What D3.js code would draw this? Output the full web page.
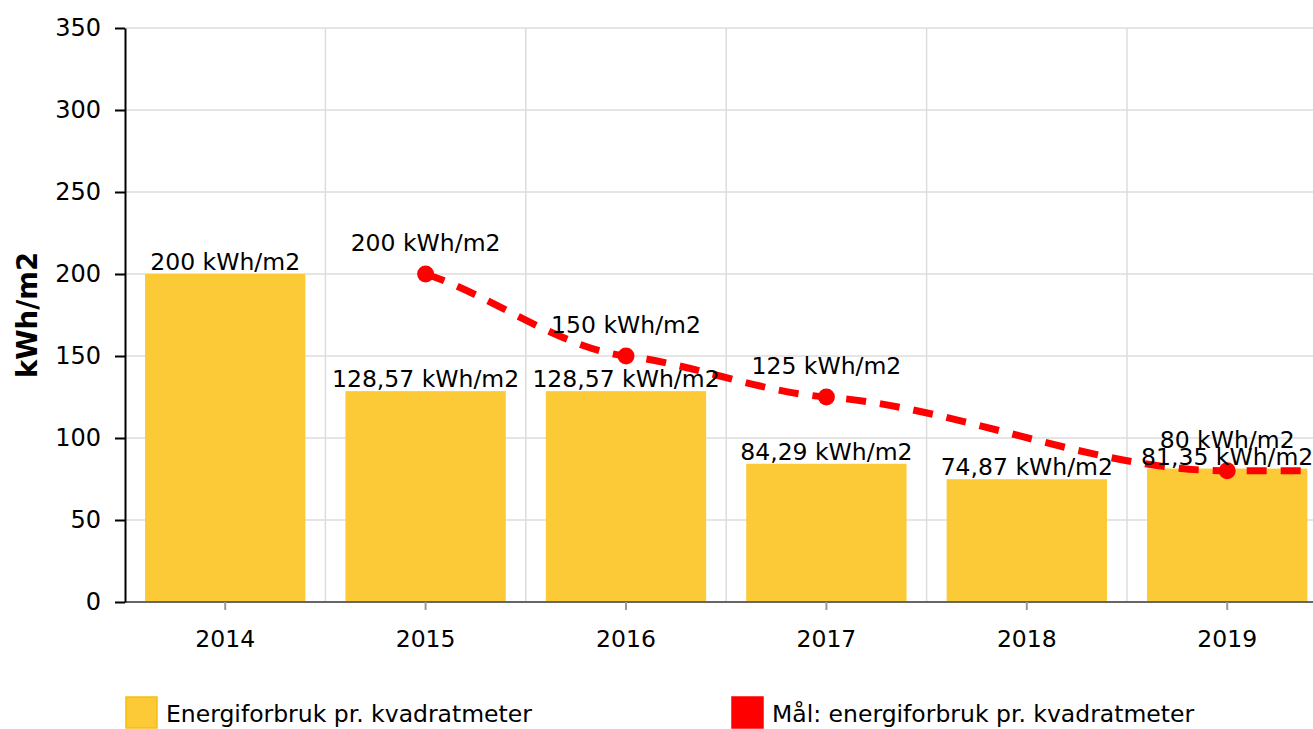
<!DOCTYPE html>
<html>
<head>
<meta charset="utf-8">
<script src="https://cdn.jsdelivr.net/npm/d3@7"></script>
<style>
  body { margin: 0; background: #fff; }
  text { font-family: "DejaVu Sans", Verdana, sans-serif; fill: #000; }
</style>
</head>
<body>
<script>
const years = ['2014', '2015', '2016', '2017', '2018', '2019', '2020']
const usage = [200, 128.57, 128.57, 84.29, 74.87, 81.35, null]
const usageLabels = ['200', '128,57', '128,57', '84,29', '74,87', '81,35', '']
const target = [null, 200, 150, 125, null, 80, 80]
const targetLabels = ['', '200', '150', '125', '', '80', '80']
const yTicks = [0, 50, 100, 150, 200, 250, 300, 350]

const W = 1313, H = 729
const margin = {top: 28, left: 125, bottom: 127}
const bandW = 200.4
const fs = 23.5

// soft spline: cubic segments with flattened tangents at the points
function softCurve(context) {
  let pts = []
  return {
    areaStart() {}, areaEnd() {},
    lineStart() { pts = [] },
    point(x, y) { pts.push([+x, +y]) },
    lineEnd() {
      const n = pts.length
      if (!n) return
      const sec = i => (pts[i + 1][1] - pts[i][1]) / (pts[i + 1][0] - pts[i][0])
      const slope = i => {
        if (n < 2) return 0
        if (i === 0) return 0.8 * sec(0)
        if (i === n - 1) return 0.8 * sec(n - 2)
        const a = sec(i - 1), b = sec(i)
        if (a * b <= 0) return 0
        return 0.4 * (pts[i + 1][1] - pts[i - 1][1]) / (pts[i + 1][0] - pts[i - 1][0])
      }
      context.moveTo(pts[0][0], pts[0][1])
      for (let i = 0; i < n - 1; i++) {
        const [x0, y0] = pts[i], [x1, y1] = pts[i + 1]
        const h = (x1 - x0) / 3
        context.bezierCurveTo(x0 + h, y0 + slope(i) * h, x1 - h, y1 - slope(i + 1) * h, x1, y1)
      }
    }
  }
}

const svg = d3.select('body').append('svg')
    .attr('width', W)
    .attr('height', H)

const x = d3.scaleBand()
    .domain(years)
    .range([margin.left, margin.left + bandW * years.length])
    .paddingInner(0.2)
    .paddingOuter(0.1)

// plain band scale for grid, ticks and the line
const xs = d3.scaleBand().domain(years).range(x.range())

const y = d3.scaleLinear()
    .domain([0, 350])
    .range([H - margin.bottom, margin.top])

svg.append('clipPath').attr('id', 'clip')
  .append('rect')
    .attr('x', margin.left).attr('y', 0)
    .attr('width', W - margin.left).attr('height', H)

const plot = svg.append('g').attr('clip-path', 'url(#clip)')

// horizontal grid
plot.selectAll('.hgrid').data(yTicks.slice(1))
  .enter().append('line')
    .attr('x1', margin.left).attr('x2', W)
    .attr('y1', d => y(d)).attr('y2', d => y(d))
    .attr('stroke', '#dcdcdc').attr('stroke-width', 1.5)

// vertical grid
plot.selectAll('.vgrid').data(years.slice(1))
  .enter().append('line')
    .attr('x1', d => xs(d)).attr('x2', d => xs(d))
    .attr('y1', y(350)).attr('y2', y(0))
    .attr('stroke', '#dcdcdc').attr('stroke-width', 1.5)

// bars
const barData = years.map((yr, i) => ({yr, v: usage[i], lbl: usageLabels[i]})).filter(d => d.v != null)
plot.selectAll('.bar').data(barData)
  .enter().append('rect')
    .attr('x', d => x(d.yr))
    .attr('width', x.bandwidth())
    .attr('y', d => y(d.v))
    .attr('height', d => y(0) - y(d.v))
    .attr('fill', '#fcca36')

// x axis
const xAxis = svg.append('g')
    .attr('transform', 'translate(0,' + y(0) + ')')
    .call(d3.axisBottom(xs).tickSize(8).tickSizeOuter(0))
xAxis.select('.domain').attr('stroke', '#666').attr('stroke-width', 2)
  .attr('d', 'M' + margin.left + ',0H' + W)
xAxis.selectAll('.tick line').attr('stroke', '#999').attr('stroke-width', 2)
xAxis.selectAll('.tick text').attr('font-size', fs).attr('dy', '1.45em')
  .style('font-family', '"DejaVu Sans", Verdana, sans-serif').attr('fill', '#000')

// y axis
const yAxis = svg.append('g')
    .attr('transform', 'translate(' + margin.left + ',0)')
    .call(d3.axisLeft(y).tickValues(yTicks).tickSize(10).tickSizeOuter(0))
yAxis.select('.domain').attr('stroke', '#000').attr('stroke-width', 2)
yAxis.selectAll('.tick line').attr('stroke', '#000').attr('stroke-width', 2)
yAxis.selectAll('.tick text').attr('font-size', 24).attr('x', -24)
  .style('font-family', '"DejaVu Sans", Verdana, sans-serif').attr('fill', '#000')

svg.append('text')
    .attr('transform', 'translate(37,' + y(175) + ') rotate(-90)')
    .attr('text-anchor', 'middle')
    .attr('font-size', 27.5)
    .attr('font-weight', 'bold')
    .text('kWh/m2')

// target line
const tData = years.map((yr, i) => ({yr, v: target[i], lbl: targetLabels[i]})).filter(d => d.v != null)
const cx = d => xs(d.yr) + xs.bandwidth() / 2
const line = d3.line()
    .x(cx)
    .y(d => y(d.v))
    .curve(softCurve)

plot.append('path')
    .datum(tData)
    .attr('d', line)
    .attr('fill', 'none')
    .attr('stroke', '#ff0000')
    .attr('stroke-width', 7)
    .attr('stroke-dasharray', '20,14')

plot.selectAll('.dot').data(tData)
  .enter().append('circle')
    .attr('cx', cx)
    .attr('cy', d => y(d.v))
    .attr('r', 8.5)
    .attr('fill', '#ff0000')

// bar labels
plot.selectAll('.blbl').data(barData)
  .enter().append('text')
    .attr('x', d => x(d.yr) + x.bandwidth() / 2)
    .attr('y', d => y(d.v) - 4)
    .attr('text-anchor', 'middle')
    .attr('font-size', fs)
    .text(d => d.lbl + ' kWh/m2')

// target labels
plot.selectAll('.tlbl').data(tData)
  .enter().append('text')
    .attr('x', cx)
    .attr('y', d => y(d.v) - 23)
    .attr('text-anchor', 'middle')
    .attr('font-size', fs)
    .text(d => d.lbl + ' kWh/m2')

// legend
const legend = [
  {name: 'Energiforbruk pr. kvadratmeter', color: '#fcca36', stroke: '#f5bd10', x: 125},
  {name: 'Mål: energiforbruk pr. kvadratmeter', color: '#ff0000', stroke: '#ff0000', x: 731}
]
const lg = svg.selectAll('.lg').data(legend).enter().append('g')
lg.append('rect')
    .attr('x', d => d.x + 1).attr('y', 697)
    .attr('width', 31).attr('height', 31)
    .attr('fill', d => d.color)
    .attr('stroke', d => d.stroke).attr('stroke-width', 1.5)
lg.append('text')
    .attr('x', d => d.x + 41)
    .attr('y', 722)
    .attr('font-size', fs)
    .text(d => d.name)
</script>
</body>
</html>
